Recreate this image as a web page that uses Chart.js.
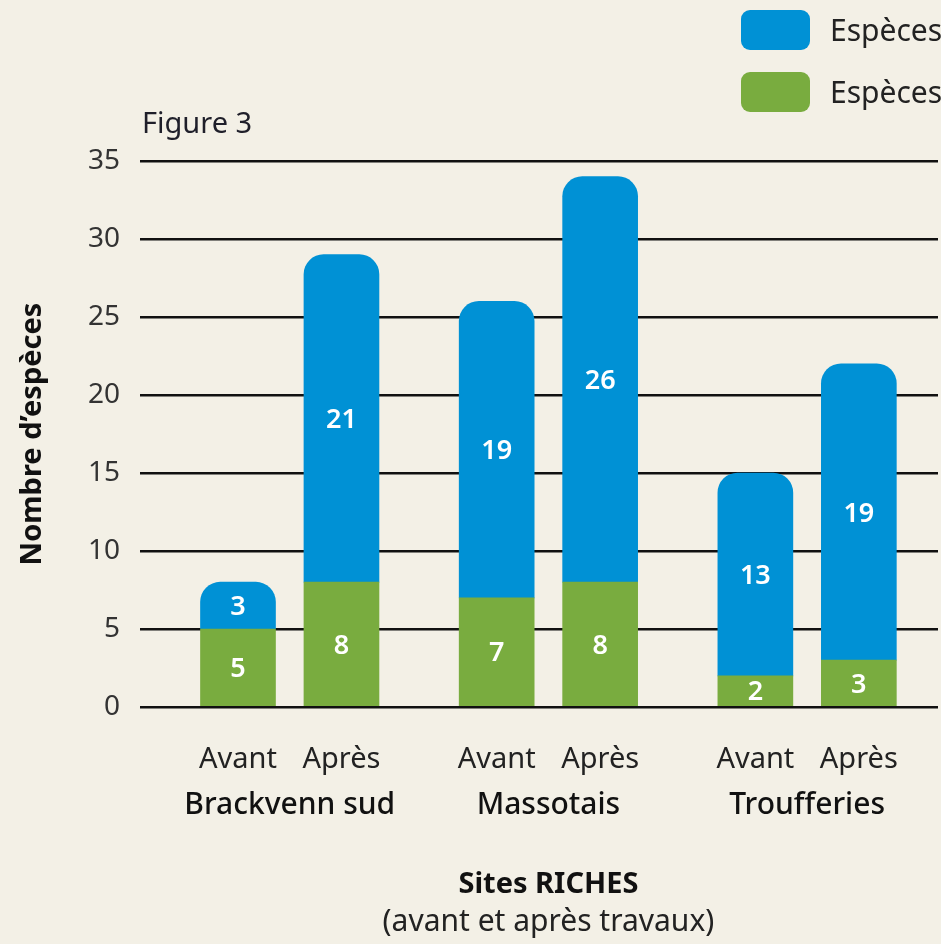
<!DOCTYPE html>
<html><head><meta charset="utf-8">
<script src="https://cdn.jsdelivr.net/npm/chart.js@4/dist/chart.umd.min.js"></script>
<style>
html,body{margin:0;padding:0;background:#F3F0E6;}
#wrap{width:941px;height:944px;position:relative;}
</style></head>
<body><div id="wrap"><canvas id="c" width="941" height="944"></canvas></div>
<script>
// ---- data ----
const sites = ["Brackvenn sud", "Massotais", "Troufferies"];
const periods = ["Avant", "Après"];
const greenValues = [5, 8, 7, 8, 2, 3];
const blueValues = [3, 21, 19, 26, 13, 19];
const yTicks = [0, 5, 10, 15, 20, 25, 30, 35];
const seriesNames = ["Espèces", "Espèces"];
const figureLabel = "Figure 3";
const yTitle = "Nombre d’espèces";
const xTitle = "Sites RICHES";
const xSubtitle = "(avant et après travaux)";

// slot positions on the index axis: pairs within a site, wider gap between sites
const slotOf = i => Math.floor(i / 2) * 5 + (i % 2) * 2;
const slots = greenValues.map((_, i) => slotOf(i));
const slotLabel = {};
slots.forEach((s, i) => slotLabel[s] = periods[i % 2]);

const FONT = "'Noto Sans', 'Open Sans', sans-serif";
const BLUE = '#0091D5', GREEN = '#79AC3F', BG = '#F3F0E6';

const bgPlugin = {
  id: 'bg',
  beforeDraw(chart) {
    const ctx = chart.ctx;
    ctx.save(); ctx.fillStyle = BG; ctx.fillRect(0, 0, chart.width, chart.height); ctx.restore();
  }
};

const labelPlugin = {
  id: 'barLabels',
  afterDatasetsDraw(chart) {
    const ctx = chart.ctx;
    ctx.save();
    ctx.fillStyle = '#ffffff';
    ctx.font = `600 27px ${FONT}`;
    ctx.textAlign = 'center';
    ctx.textBaseline = 'middle';
    chart.data.datasets.forEach((ds, di) => {
      const meta = chart.getDatasetMeta(di);
      meta.data.forEach((el, i) => {
        const v = ds.data[i].y;
        const y = (el.y + el.base) / 2;
        ctx.fillText(String(v), el.x, y + 2);
      });
    });
    ctx.restore();
  }
};

const extrasPlugin = {
  id: 'extras',
  afterDraw(chart) {
    const ctx = chart.ctx;
    const xs = chart.scales.x;
    const area = chart.chartArea;
    ctx.save();
    // figure label
    ctx.fillStyle = '#1f1f2a';
    ctx.font = `400 29px ${FONT}`;
    ctx.textAlign = 'left'; ctx.textBaseline = 'middle';
    ctx.fillText(figureLabel, 142, 125);
    // group labels
    ctx.fillStyle = '#111111';
    ctx.font = `500 30px ${FONT}`;
    ctx.textAlign = 'center';
    sites.forEach((s, g) => {
      const a = xs.getPixelForValue(slots[g * 2]);
      const b = xs.getPixelForValue(slots[g * 2 + 1]);
      ctx.fillText(s, (a + b) / 2, 805);
    });
    // x title
    const mid = (xs.getPixelForValue(slots[0]) + xs.getPixelForValue(slots[slots.length - 1])) / 2;
    ctx.font = `700 29px ${FONT}`;
    ctx.fillText(xTitle, mid, 885);
    ctx.font = `400 30px ${FONT}`;
    ctx.fillStyle = '#222222';
    ctx.fillText(xSubtitle, mid, 922);
    // y title
    ctx.save();
    ctx.translate(33, (area.top + area.bottom) / 2);
    ctx.rotate(-Math.PI / 2);
    ctx.fillStyle = '#111111';
    ctx.font = `700 29px ${FONT}`;
    ctx.fillText(yTitle, 0, 0);
    ctx.restore();
    // legend
    const legendColors = [BLUE, GREEN];
    const legendY = [30, 92];
    legendColors.forEach((c, k) => {
      ctx.fillStyle = c;
      ctx.beginPath();
      ctx.roundRect(741, legendY[k] - 20, 69, 40, 9);
      ctx.fill();
      ctx.fillStyle = '#222222';
      ctx.font = `400 30px ${FONT}`;
      ctx.textAlign = 'left';
      ctx.fillText(seriesNames[k], 830, legendY[k] + 2);
    });
    ctx.restore();
  }
};

new Chart(document.getElementById('c'), {
  type: 'bar',
  data: {
    datasets: [
      { label: seriesNames[1], data: greenValues.map((v, i) => ({ x: slots[i], y: v })),
        backgroundColor: GREEN, barThickness: 75, borderWidth: 0, borderRadius: 0 },
      { label: seriesNames[0], data: blueValues.map((v, i) => ({ x: slots[i], y: v })),
        backgroundColor: BLUE, barThickness: 75, borderWidth: 0,
        borderRadius: { topLeft: 20, topRight: 20, bottomLeft: 0, bottomRight: 0 }, borderSkipped: 'start' }
    ]
  },
  options: {
    responsive: false,
    animation: false,
    devicePixelRatio: 1,
    layout: { padding: { top: 161, right: 3, left: 0, bottom: 0 } },
    plugins: { legend: { display: false }, tooltip: { enabled: false }, title: { display: false } },
    scales: {
      x: {
        type: 'linear', stacked: true, offset: false,
        min: -1.894, max: 13.53,
        grid: { display: false, offset: false }, border: { display: false },
        afterBuildTicks(scale) { scale.ticks = slots.map(v => ({ value: v })); },
        afterFit(scale) { scale.height = 237; },
        ticks: {
          autoSkip: false, maxRotation: 0, padding: 27,
          color: '#222222', font: { family: FONT, size: 29, weight: '400' },
          callback: v => slotLabel[v] || ''
        }
      },
      y: {
        stacked: true, min: 0, max: 35,
        afterBuildTicks(scale) { scale.ticks = yTicks.map(v => ({ value: v })); },
        afterFit(scale) { scale.width = 140; },
        grid: { color: '#111111', lineWidth: 2.5, drawTicks: false },
        border: { display: false },
        ticks: { padding: 20, color: '#333333', font: { family: FONT, size: 28, weight: '400' } }
      }
    }
  },
  plugins: [bgPlugin, labelPlugin, extrasPlugin]
});
</script></body></html>
